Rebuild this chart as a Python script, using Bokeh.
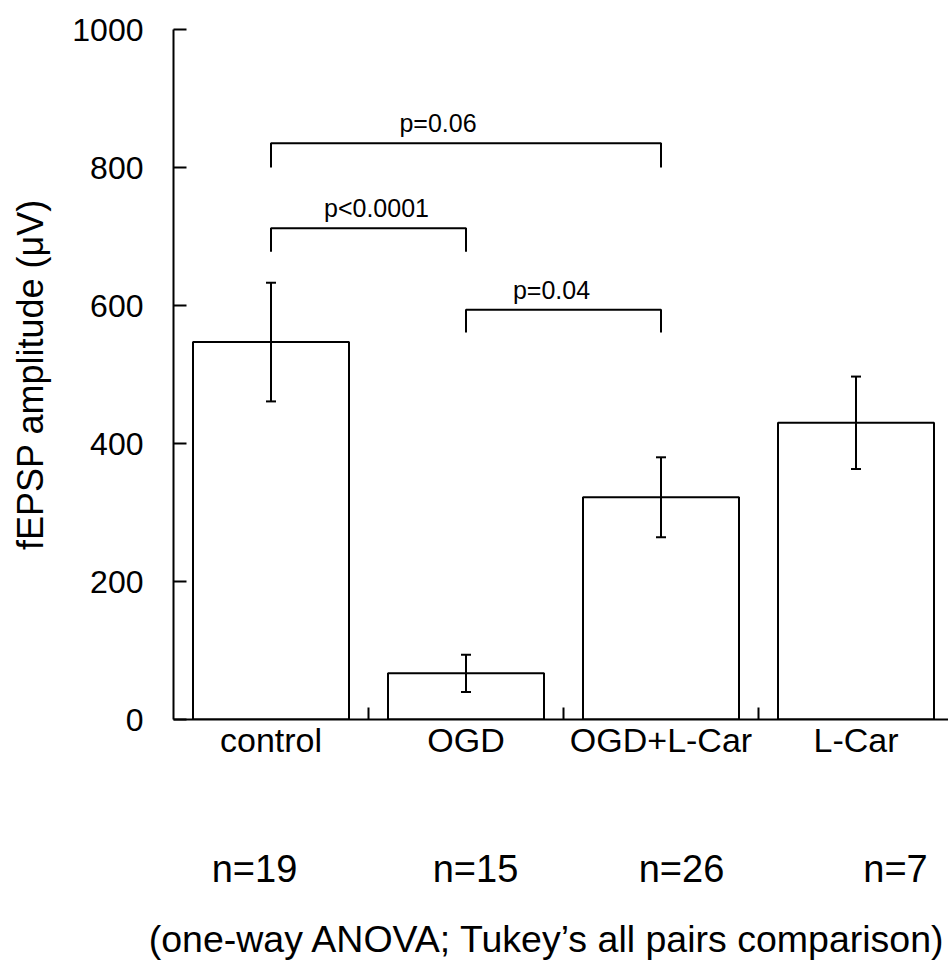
from bokeh.plotting import figure
from bokeh.models import (ColumnDataSource, Range1d, FixedTicker, Whisker, TeeHead, Label,
                          LinearAxis)
from bokeh.embed import file_html
from bokeh.resources import INLINE

# ---------------- data ----------------
categories = ["control", "OGD", "OGD+L-Car", "L-Car"]
means = [547, 67, 322, 430]
sem = [86, 27, 58, 67]
n_labels = ["n=19", "n=15", "n=26", "n=7"]
y_ticks = [0, 200, 400, 600, 800, 1000]
footnote = "(one-way ANOVA; Tukey\u2019s all pairs comparison)"

# significance brackets
br_left = ["control", "control", "OGD"]
br_right = ["OGD+L-Car", "OGD", "OGD+L-Car"]
br_top = [835, 712, 594]
br_bottom = [800, 678, 561]
br_text = ["p=0.06", "p<0.0001", "p=0.04"]

# layout nudges (pixels / data-width units), not data
br_text_dx = [-28, 8, -12]
n_label_dx = [-16.5, 9.5, 20.5, 39.5]
CAT_PX = 195.0

FONT = "Liberation Sans"

xpos = [i + 0.5 for i in range(len(categories))]
pos = dict(zip(categories, xpos))

p = figure(width=948, height=967, output_backend="svg", toolbar_location=None,
           x_range=Range1d(0, 775 / CAT_PX), y_range=Range1d(0, 1000),
           min_border_left=173, min_border_right=0, min_border_top=29,
           min_border_bottom=248)
p.outline_line_color = None
p.xgrid.visible = False
p.ygrid.visible = False
p.background_fill_color = "white"
p.border_fill_color = "white"

src = ColumnDataSource(dict(
    x=xpos, top=means,
    upper=[m + s for m, s in zip(means, sem)],
    lower=[m - s for m, s in zip(means, sem)],
))

p.vbar(x="x", top="top", width=0.8, bottom=0, source=src,
       fill_color="white", line_color="black", line_width=2)

wh = Whisker(base="x", upper="upper", lower="lower", source=src,
             line_color="black", line_width=2, level="annotation",
             upper_head=TeeHead(size=10, line_color="black", line_width=2),
             lower_head=TeeHead(size=10, line_color="black", line_width=2))
p.add_layout(wh)

# brackets
xs, ys = [], []
for l, r, t, b in zip(br_left, br_right, br_top, br_bottom):
    xs.append([pos[l], pos[l], pos[r], pos[r]])
    ys.append([b, t, t, b])
p.multi_line(xs, ys, line_color="black", line_width=2)

for l, r, t, txt, dx in zip(br_left, br_right, br_top, br_text, br_text_dx):
    p.add_layout(Label(x=(pos[l] + pos[r]) / 2, y=t, text=txt,
                       x_offset=dx, y_offset=20,
                       text_align="center", text_baseline="alphabetic",
                       text_font=FONT, text_font_size="25px", text_color="black"))

# main x axis: labels at category centres, ticks between categories
xa = p.xaxis[0]
xa.ticker = FixedTicker(ticks=xpos, minor_ticks=[1, 2, 3])
xa.major_label_overrides = {x: c for x, c in zip(xpos, categories)}
xa.major_tick_line_color = None
xa.minor_tick_in = 12
xa.minor_tick_out = 0
xa.minor_tick_line_width = 2
xa.minor_tick_line_color = "black"
xa.axis_line_width = 2
xa.axis_line_color = "black"
xa.major_label_standoff = -5
xa.major_label_text_font = FONT
xa.major_label_text_font_size = "34px"
xa.major_label_text_color = "black"

# second row: n= labels
n_pos = [x + dx / CAT_PX for x, dx in zip(xpos, n_label_dx)]
xa2 = LinearAxis(ticker=FixedTicker(ticks=n_pos, minor_ticks=[]),
                 major_label_overrides={x: t for x, t in zip(n_pos, n_labels)},
                 axis_line_color=None, major_tick_line_color=None,
                 minor_tick_line_color=None, major_label_standoff=80,
                 major_label_text_font=FONT, major_label_text_font_size="38px",
                 major_label_text_color="black")
p.add_layout(xa2, "below")

# third row: footnote
foot_x = [(547 - 173) / CAT_PX]
xa3 = LinearAxis(ticker=FixedTicker(ticks=foot_x, minor_ticks=[]),
                 major_label_overrides={foot_x[0]: footnote},
                 axis_line_color=None, major_tick_line_color=None,
                 minor_tick_line_color=None, major_label_standoff=19,
                 major_label_text_font=FONT, major_label_text_font_size="37.5px",
                 major_label_text_color="black")
p.add_layout(xa3, "below")

ya = p.yaxis[0]
ya.ticker = FixedTicker(ticks=y_ticks, minor_ticks=[])
ya.major_tick_in = 13
ya.major_tick_out = 0
ya.major_tick_line_width = 2
ya.major_tick_line_color = "black"
ya.minor_tick_line_color = None
ya.axis_line_width = 2
ya.axis_line_color = "black"
ya.major_label_standoff = 30
ya.major_label_text_font = FONT
ya.major_label_text_font_size = "32px"
ya.major_label_text_color = "black"
ya.axis_label = "fEPSP amplitude (μV)"
ya.axis_label_text_font = FONT
ya.axis_label_text_font_size = "36px"
ya.axis_label_text_font_style = "normal"
ya.axis_label_text_color = "black"
ya.axis_label_standoff = 18

open("out.html", "w").write(file_html(p, INLINE))
